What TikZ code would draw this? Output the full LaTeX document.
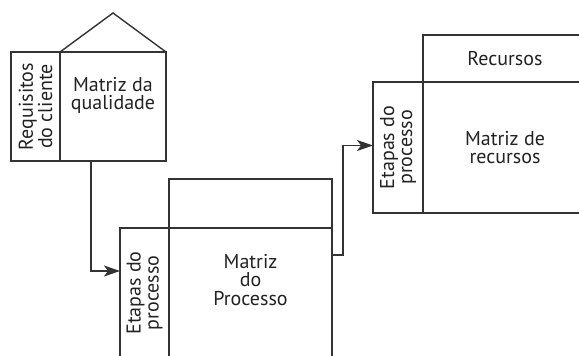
\documentclass[tikz,border=0pt]{standalone}
\usepackage{fontspec}
\setmainfont{PT Sans}
\usetikzlibrary{arrows.meta, positioning, calc}
\definecolor{LineGray}{HTML}{333333}
\definecolor{TextGray}{HTML}{222222}
\tikzset{
    % Matrix box style
    matbox/.style={
        rectangle,
        draw=LineGray,
        line width=1.4pt,
        outer sep=0pt,
        inner sep=0pt,
        align=center,
        text=TextGray,
        font=\fontsize{20}{18.5}\selectfont
    },
    % Rotated strip label style
    sidelabel/.style={
        rotate=90,
        align=center,
        inner sep=0pt,
        text=TextGray,
        font=\fontsize{20}{18}\selectfont
    },
    % Arrow style
    arrow/.style={
        -{Stealth[length=16pt,width=11pt,inset=4pt]},
        line width=1.4pt,
        color=LineGray
    }
}
\begin{document}
\begin{tikzpicture}[x=1pt, y=-1pt, node distance=0pt]
        \useasboundingbox (0,0) rectangle (579,356);
        \clip (0,0) rectangle (579,356);

        % House of quality
        \node (reqcli) [matbox, anchor=north west, minimum width=49pt, minimum height=109pt] at (11,52) {};
        \node [sidelabel] at (reqcli.center) {Requisitos\\do cliente};
        \node (mq) [matbox, right=0pt of reqcli, minimum width=106pt, minimum height=109pt] {Matriz da\\qualidade\\[8pt]};
        \draw [draw=LineGray, line width=1.4pt, line join=miter] (mq.north west) -- ($(mq.north)+(0,-39)$) -- (mq.north east);

        % Process matrix
        \node (etapas1) [matbox, anchor=north west, minimum width=49pt, minimum height=130pt] at (120,228) {};
        \node [sidelabel] at (etapas1.center) {Etapas do\\processo};
        \node (mp) [matbox, right=0pt of etapas1, minimum width=163pt, minimum height=130pt] {Matriz\\do\\Processo\\[8pt]};
        \node (mptop) [matbox, above=0pt of mp, minimum width=163pt, minimum height=49pt] {};

        % Resource matrix
        \node (etapas2) [matbox, anchor=north west, minimum width=50pt, minimum height=131pt] at (373,82) {};
        \node [sidelabel] at (etapas2.center) {Etapas do\\processo};
        \node (mr) [matbox, right=0pt of etapas2, minimum width=164pt, minimum height=131pt] {Matriz de\\recursos};
        \node (rec) [matbox, above=0pt of mr, minimum width=164pt, minimum height=47pt] {Recursos};

        % Connectors
        \draw [arrow] ([xshift=-22pt]mq.south) |- ([yshift=22pt]etapas1.west);
        \draw [arrow] ([yshift=-27pt]mp.north east) -- ++(11,0) |- ([yshift=2pt]etapas2.west);
    \end{tikzpicture}
\end{document}
